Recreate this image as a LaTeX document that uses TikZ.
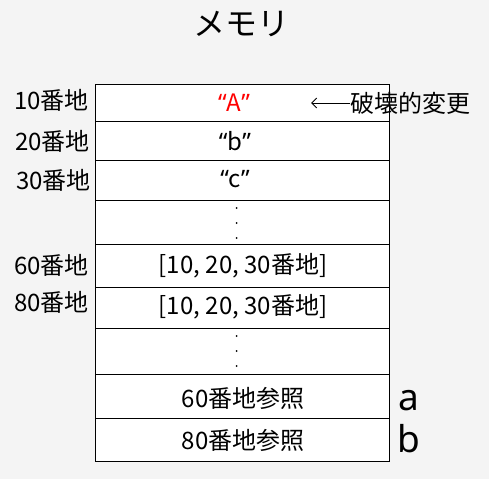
\documentclass[tikz,border=0pt]{standalone}
\usepackage{fontspec}
\setmainfont{Noto Sans CJK JP}
\newfontfamily\latfont{Noto Sans}
\usetikzlibrary{arrows.meta}
\definecolor{bg}{HTML}{F4F4F4}
\newcommand{\qt}[1]{{\latfont\char"201C}#1{\latfont\char"201D}}
\begin{document}
\begin{tikzpicture}[x=1pt,y=-1pt,
  cell/.style={draw=black, fill=white, line width=1pt, minimum width=294pt,
    inner sep=0pt, anchor=north west},
  txt/.style={inner sep=0pt, font=\fontsize{24}{28}\selectfont},
  addr/.style={inner sep=0pt, anchor=east, font=\fontsize{24}{28}\selectfont},
  big/.style={inner sep=0pt, font=\fontsize{32}{38}\selectfont},
  var/.style={inner sep=0pt, anchor=base, font=\latfont\fontsize{37}{44}\selectfont},
  dot/.style={circle, fill=black, inner sep=0pt, minimum size=2pt}]
\fill[bg] (0,0) rectangle (489,479);
\useasboundingbox (0,0) rectangle (489,479);
% cells
\node[cell, minimum height=37.3pt] (r1) at (95.3,84) {};
\node[cell, minimum height=38.7pt] (r2) at (95.3,121.3) {};
\node[cell, minimum height=40pt]   (r3) at (95.3,160) {};
\node[cell, minimum height=44pt]   (r4) at (95.3,200) {};
\node[cell, minimum height=43.3pt] (r5) at (95.3,244) {};
\node[cell, minimum height=41pt]   (r6) at (95.3,287.3) {};
\node[cell, minimum height=45.7pt] (r7) at (95.3,328.3) {};
\node[cell, minimum height=44.3pt] (r8) at (95.3,374) {};
\node[cell, minimum height=42.7pt] (r9) at (95.3,418.3) {};
% title
\node[big] (title) at (241.5,24) {メモリ};
% contents
\node[txt, text=red] (tA) at (234,103) {\qt{A}};
\node[txt] (tb) at (235,141) {\qt{b}};
\node[txt] (tc) at (235,179) {\qt{c}};
\node[txt] (t60) at (243,266) {[10, 20, 30番地]};
\node[txt] (t80) at (243,307) {[10, 20, 30番地]};
\node[txt] (p60) at (243,398) {60番地参照};
\node[txt] (p80) at (243,440) {80番地参照};
% dots
\node[dot] (d1) at (236.7,208) {};
\node[dot] (d2) at (236.7,223) {};
\node[dot] (d3) at (236.7,238) {};
\node[dot] (d4) at (236.7,336) {};
\node[dot] (d5) at (236.7,351) {};
\node[dot] (d6) at (236.7,366) {};
% addresses
\node[addr] (a10) at (89,100) {10番地};
\node[addr] (a20) at (90,141) {20番地};
\node[addr] (a30) at (91,180) {30番地};
\node[addr] (a60) at (89,265) {60番地};
\node[addr] (a80) at (89,302.5) {80番地};
% change note
\node[txt, anchor=west] (chg) at (350,103) {破壊的変更};
\coordinate (arrEnd) at (311,103);
\draw[line width=1pt, -{Straight Barb[length=5pt,width=10pt]}] (chg.west) -- (arrEnd);
% variables
\node[var] (va) at (408.5,410) {a};
\node[var] (vb) at (409,452) {b};
\end{tikzpicture}
\end{document}
